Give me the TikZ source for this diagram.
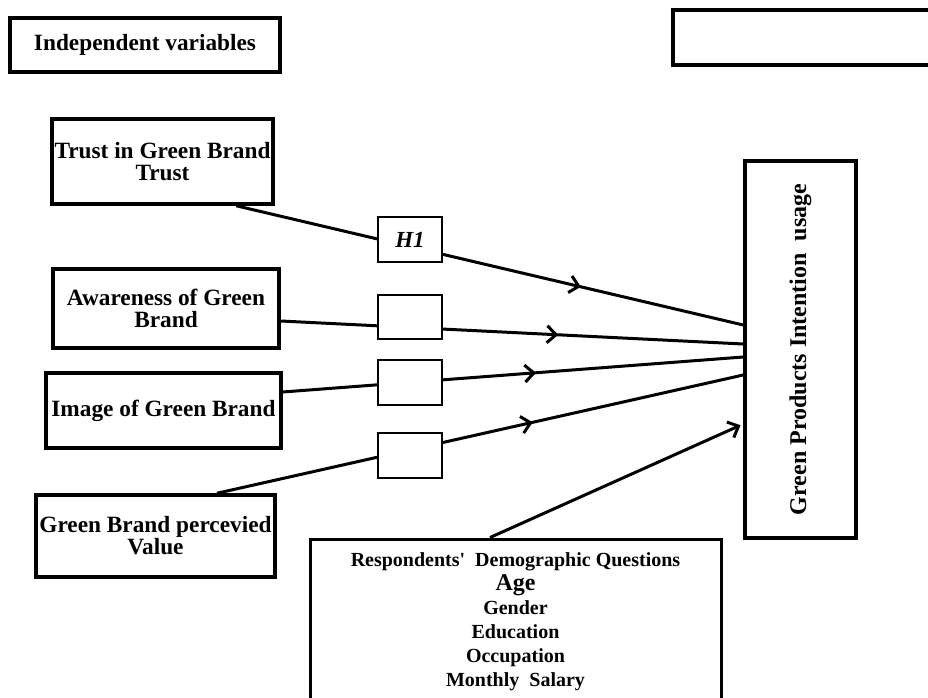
\documentclass[tikz,border=0pt]{standalone}
\usepackage{fontspec}
\setmainfont{Liberation Serif}
\usetikzlibrary{arrows.meta,decorations.markings}

\begin{document}
\begin{tikzpicture}[x=1pt, y=-1pt,
    box/.style={draw, line width=3.5pt, inner sep=0pt, align=center, font=\bfseries\fontsize{23.3}{22}\selectfont},
    hyp/.style={draw, fill=white, line width=1.5pt, minimum width=64pt, minimum height=45pt, inner sep=0pt, font=\bfseries\itshape\fontsize{23}{23}\selectfont},
    link/.style={line width=3pt},
    midarrow/.style={postaction={decorate, decoration={markings, mark=at position #1 with {\arrow{Straight Barb[length=9pt,width=17pt,line width=3pt]}}}}}]
\useasboundingbox (0,0) rectangle (928,698);
    % variables
    \node [box, minimum width=270pt, minimum height=54pt] (indep) at (145,45) {Independent variables};
    \node [box, minimum width=267pt, minimum height=55pt] (blank) at (806.5,37.5) {};
    \node [box, minimum width=221pt, minimum height=85pt] (trust) at (162.5,161.5) {Trust in Green Brand\\Trust};
    \node [box, minimum width=226pt, minimum height=79pt] (aware) at (166,308.5) {Awareness of Green\\Brand};
    \node [box, minimum width=235pt, minimum height=75pt] (image) at (163.5,410.5) {Image of Green Brand};
    \node [box, minimum width=239pt, minimum height=82pt] (value) at (155.5,536) {Green Brand percevied\\Value};
    \node [box, minimum width=111pt, minimum height=377pt] (gpi) at (800.5,349.5) {};
    \node [rotate=90, font=\bfseries\fontsize{24}{24}\selectfont] (gpilabel) at (gpi.center) {Green Products Intention\ \ usage};
    \node [box, line width=3pt, minimum width=411pt, minimum height=166pt, font=\bfseries\fontsize{20}{24}\selectfont] (demo) at (515.5,622)
        {Respondents\textquotesingle\ \ Demographic Questions\\{\fontsize{24}{24}\selectfont Age}\\Gender\\Education\\Occupation\\Monthly\ \ Salary};
    % paths
    \draw [link, midarrow=0.68] (trust.-31) -- ([yshift=24.5pt]gpi.west);
    \draw [link, midarrow=0.6] ([yshift=-12.5pt]aware.east) -- ([yshift=5.5pt]gpi.west);
    \draw [link, midarrow=0.55] ([yshift=18.5pt]image.east) -- ([yshift=-7.5pt]gpi.west);
    \draw [link, midarrow=0.6] ([xshift=61.5pt]value.north) -- ([yshift=-25.5pt]gpi.west);
    \draw [link, -{Straight Barb[length=9pt,width=17pt,line width=3pt]}, shorten >=3pt] ([xshift=-25.5pt]demo.north) -- ([yshift=-74.5pt]gpi.west);
    % hypotheses
    \node [hyp] (h1) at (410,239.5) {H1};
    \node [hyp, minimum height=44pt] (h2) at (410,317) {};
    \node [hyp] (h3) at (410,382.5) {};
    \node [hyp] (h4) at (410,455.5) {};
\end{tikzpicture}
\end{document}
